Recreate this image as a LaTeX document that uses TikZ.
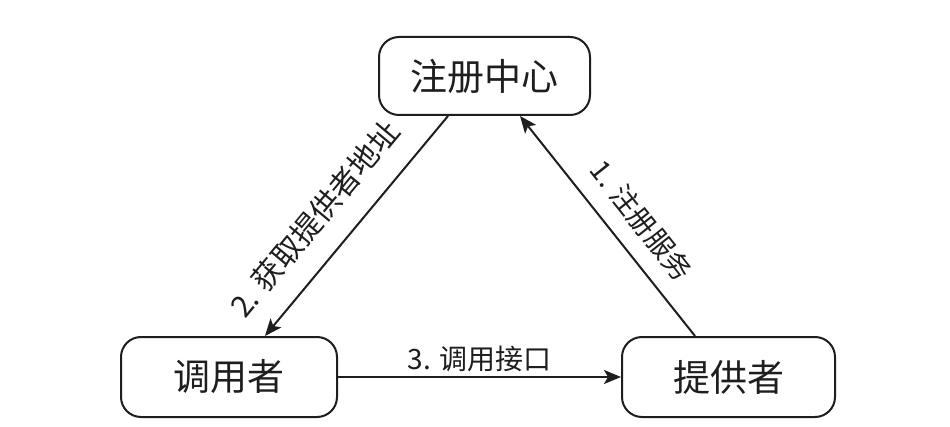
\documentclass[tikz,border=0pt]{standalone}
\usepackage{fontspec}
\setmainfont{Noto Sans CJK SC}
\usetikzlibrary{arrows.meta}
\definecolor{ink}{HTML}{1E1E1E}
\begin{document}
\begin{tikzpicture}[x=1pt,y=1pt,
  box/.style={draw=ink, line width=2pt, rounded corners=20pt, fill=white,
    font=\fontsize{37}{40}\selectfont, text=ink, inner sep=0pt},
  conn/.style={draw=ink, line width=2pt, -{Stealth[length=17pt,width=14pt,inset=4pt]}},
  lbl/.style={font=\fontsize{28}{30}\selectfont, text=ink, inner sep=6pt}]
\useasboundingbox[fill=white] (0,0) rectangle (950,426);
\node[box, minimum width=211pt, minimum height=78pt] (reg) at (484.5,350) {注册中心};
\node[box, minimum width=216pt, minimum height=80pt] (caller) at (229,49) {调用者};
\node[box, minimum width=213pt, minimum height=80pt] (prov) at (728.5,49) {提供者};
\coordinate (r2) at ([xshift=-36.5pt]reg.south);
\coordinate (c2) at ([xshift=36pt]caller.north);
\coordinate (p1) at ([xshift=-33.5pt]prov.north);
\coordinate (r1) at ([xshift=35.5pt]reg.south);
\draw[conn] (r2) -- node[lbl, pos=0.575, sloped, above, inner sep=22pt, font=\fontsize{30}{32}\selectfont] {2. 获取提供者地址} (c2);
\draw[conn] (p1) -- node[lbl, pos=0.44, sloped, above, inner sep=16pt] {1. 注册服务} (r1);
\draw[conn] (caller.east) -- node[lbl, above, inner sep=4pt] {3. 调用接口} (prov.west);
\end{tikzpicture}
\end{document}
